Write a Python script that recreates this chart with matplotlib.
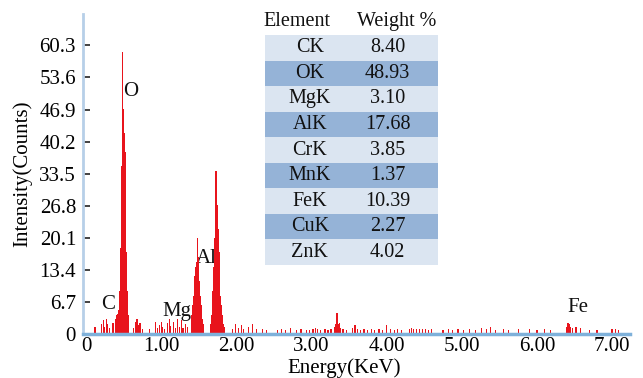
import matplotlib
matplotlib.use("Agg")
import matplotlib.pyplot as plt

plt.rcParams['font.family'] = ['Liberation Serif', 'DejaVu Serif']

# EDS spectrum: main peaks (energy in keV, intensity in counts)
o_energy = [0.39, 0.40, 0.41, 0.42, 0.43, 0.44, 0.45, 0.46, 0.47, 0.48,
            0.49, 0.50, 0.51, 0.52, 0.53, 0.54, 0.55, 0.56, 0.57]
o_counts = [2.5, 3.0, 4.0, 4.2, 4.0, 5.0, 9.0, 18.0, 28.0, 35.0,
            59.0, 47.0, 42.0, 38.0, 28.0, 17.0, 9.0, 4.0, 2.0]

al_energy = [1.40, 1.41, 1.42, 1.43, 1.44, 1.45, 1.46, 1.47, 1.48, 1.49,
             1.50, 1.51, 1.52, 1.53, 1.54, 1.55, 1.56]
al_counts = [2.0, 4.0, 6.0, 8.0, 10.0, 12.0, 14.0, 15.0, 20.0, 16.0,
             14.0, 11.0, 8.0, 6.0, 4.0, 3.0, 2.0]

si_energy = [1.66, 1.67, 1.68, 1.69, 1.70, 1.71, 1.72, 1.73, 1.74, 1.75,
             1.76, 1.77, 1.78, 1.79, 1.80, 1.81, 1.82, 1.83, 1.84]
si_counts = [2.0, 4.0, 6.0, 9.0, 14.0, 20.0, 26.0, 34.0, 29.0, 27.0,
             22.0, 17.0, 12.0, 8.0, 6.0, 4.0, 3.0, 2.0, 1.5]

k_energy = [3.31, 3.32, 3.33, 3.34, 3.35, 3.36, 3.37, 3.38]
k_counts = [1.5, 2.0, 3.0, 4.4, 3.0, 2.0, 2.2, 1.2]

fe_energy = [6.40, 6.41, 6.42, 6.43, 6.44, 6.47, 6.52, 6.53, 6.58]
fe_counts = [1.5, 2.2, 2.3, 2.0, 1.5, 1.2, 1.4, 1.0, 1.2]

# background channels
noise_energy = [0.12, 0.21, 0.23, 0.25, 0.27, 0.28, 0.31, 0.36, 0.37,
                0.63, 0.66, 0.68, 0.70, 0.72, 0.75, 0.85, 0.92, 0.95, 0.98,
                1.00, 1.02, 1.05, 1.09, 1.11, 1.13, 1.17, 1.19, 1.22, 1.24,
                1.27, 1.29, 1.32, 1.35,
                1.95, 1.99, 2.03, 2.07, 2.10, 2.16, 2.22, 2.27, 2.35, 2.40,
                2.55, 2.60, 2.66, 2.72, 2.80, 2.86, 2.93, 2.97, 3.02, 3.05,
                3.08, 3.12, 3.18, 3.22, 3.26,
                3.42, 3.47, 3.55, 3.58, 3.61, 3.65, 3.70, 3.75, 3.80, 3.84,
                3.90, 3.95, 4.00, 4.05, 4.10, 4.15, 4.20, 4.30, 4.33, 4.36,
                4.40, 4.44, 4.48, 4.52, 4.56, 4.60,
                4.75, 4.82, 4.88, 4.95, 5.02, 5.10, 5.18, 5.26, 5.33, 5.38,
                5.45, 5.55, 5.62, 5.75, 5.90, 6.00, 6.10, 6.18,
                6.70, 6.80, 7.00, 7.05, 7.08]
noise_counts = [1.5, 2.0, 2.8, 1.5, 3.0, 2.0, 1.2, 2.2, 1.0,
                1.2, 2.5, 3.0, 1.8, 2.2, 1.0, 1.0, 2.5, 1.2, 1.8,
                2.5, 1.4, 1.0, 2.2, 3.0, 1.6, 2.5, 1.2, 3.0, 1.5,
                2.8, 1.2, 2.0, 1.5,
                1.0, 2.0, 1.2, 1.8, 1.0, 1.5, 2.0, 1.0, 1.0, 0.8,
                0.8, 1.0, 0.8, 1.2, 0.8, 1.0, 0.7, 0.8, 1.0, 1.2,
                1.0, 0.8, 0.9, 0.8, 1.0,
                1.0, 0.8, 1.2, 1.8, 1.0, 0.8, 1.0, 0.8, 1.0, 0.8,
                1.0, 0.8, 1.8, 1.0, 0.8, 0.9, 0.7, 1.0, 1.2, 1.0,
                1.0, 1.1, 0.9, 1.0, 0.8, 1.0,
                0.8, 1.0, 0.8, 1.0, 0.8, 1.0, 0.8, 1.2, 1.0, 1.5,
                0.8, 1.0, 0.8, 0.9, 1.0, 0.8, 1.0, 0.8,
                0.8, 0.7, 0.9, 1.0, 0.8]

peak_labels = ['C', 'O', 'Mg', 'Al', 'Fe']
peak_label_x = [0.29, 0.59, 1.21, 1.60, 6.55]
peak_label_y = [6.1, 50.7, 4.6, 15.7, 5.4]

y_ticks = [0, 6.7, 13.4, 20.1, 26.8, 33.5, 40.2, 46.9, 53.6, 60.3]
y_tick_labels = ['0', '6.7', '13.4', '20.1', '26.8', '33.5', '40.2',
                 '46.9', '53.6', '60.3']
x_ticks = [0, 1, 2, 3, 4, 5, 6, 7]
x_tick_labels = ['0', '1.00', '2.00', '3.00', '4.00', '5.00', '6.00', '7.00']

# composition table
elements = ['CK', 'OK', 'MgK', 'AlK', 'CrK', 'MnK', 'FeK', 'CuK', 'ZnK']
weights = ['8.40', '48.93', '3.10', '17.68', '3.85', '1.37', '10.39',
           '2.27', '4.02']

fig = plt.figure(figsize=(6.43, 3.78), dpi=100)
ax = fig.add_axes([0.129, 0.117, 0.851, 0.845])

energy = o_energy + al_energy + si_energy + k_energy + fe_energy + noise_energy
counts = o_counts + al_counts + si_counts + k_counts + fe_counts + noise_counts
ax.bar(energy, counts, width=0.016, color='#e8141c', linewidth=0, zorder=3)

# peak labels sit behind the bars
for lab, lx, ly in zip(peak_labels, peak_label_x, peak_label_y):
    ax.text(lx, ly, lab, ha='center', va='center', fontsize=15, color='#111',
            zorder=2)

ax.set_xlim(-0.04, 7.24)
ax.set_ylim(0, 66.8)
ax.set_yticks(y_ticks)
ax.set_yticklabels(y_tick_labels)
ax.set_xticks(x_ticks)
ax.set_xticklabels(x_tick_labels)
ax.tick_params(axis='y', direction='in', length=5, width=1.2, color='#222',
               labelsize=15, pad=5)
ax.tick_params(axis='x', length=0, labelsize=15, pad=2)

for side in ['top', 'right']:
    ax.spines[side].set_visible(False)
ax.spines['left'].set_color('#b7cfe8')
ax.spines['left'].set_linewidth(2)
ax.spines['bottom'].set_color('#7fb1da')
ax.spines['bottom'].set_linewidth(2.5)
ax.spines['bottom'].set_zorder(4)

ax.set_ylabel('Intensity(Counts)', fontsize=15)
ax.yaxis.set_label_coords(-0.092, 0.5)
ax.set_xlabel('Energy(KeV)', fontsize=15)
ax.xaxis.set_label_coords(0.477, -0.078)

# table drawn in its own axes
tab = fig.add_axes([0.412, 0.299, 0.269, 0.608])
tab.set_xlim(0, 1)
tab.set_ylim(len(elements), 0)
tab.axis('off')
for i, (el, w) in enumerate(zip(elements, weights)):
    fc = '#95b3d7' if i % 2 else '#dbe5f1'
    tab.barh(i + 0.5, 1, height=1, left=0, color=fc, linewidth=0)
    tab.text(0.26, i + 0.5, el, ha='center', va='center', fontsize=14.5,
             color='#111')
    tab.text(0.71, i + 0.5, w, ha='center', va='center', fontsize=14.5,
             color='#111')
tab.text(0.185, -0.55, 'Element', ha='center', va='center', fontsize=14.5,
         color='#111', clip_on=False)
tab.text(0.763, -0.55, 'Weight %', ha='center', va='center', fontsize=14.5,
         color='#111', clip_on=False)

fig.savefig('out.png', dpi=100)
